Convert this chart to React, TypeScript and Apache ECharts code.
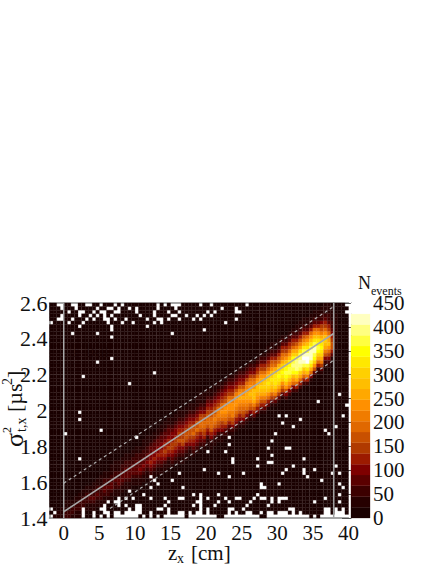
import React, { useEffect, useRef } from "react";
import * as echarts from "echarts";

const palette = ["#1a0000","#260000","#3c0000","#5a0000","#7e0000","#9c1a00","#b03a00","#c85000","#e06800","#f07c00","#ff9000","#ffa800","#ffbe00","#ffd000","#ffe800","#ffff00","#ffff40","#ffff80","#ffffc0","#ffffff"];
const levelStep = 22.5;
const xTicks = [0, 5, 10, 15, 20, 25, 30, 35, 40];
const binsX = 84;
const binsY = 60;
const binW = 0.5;
const binH = 0.02;

// column index -> [first row from the top, band levels (base 36) downward]
const bandColumns: Record<number, [number, string]> = {
  1: [52, "00000001"], 2: [52, "00000011"], 3: [51, "000000111"], 4: [50, "0000011122"], 5: [50, "0000011122"],
  6: [49, "00000011221"], 7: [48, "000000112211"], 8: [48, "000001122211"], 9: [47, "0000011222110"],
  10: [46, "00000112221100"], 11: [46, "00000112321100"], 12: [45, "000001122321100"], 13: [44, "000001122321100"],
  14: [44, "000011122221100"], 15: [43, "000011223321100"], 16: [43, "000011223221100"], 17: [42, "000111223321100"],
  18: [41, "000111223221100"], 19: [41, "000111223321100"], 20: [40, "000112233321100"], 21: [39, "000112233321100"],
  22: [39, "000112233321100"], 23: [38, "000112233321100"], 24: [37, "000112233332110"], 25: [37, "000112233432110"],
  26: [36, "001112233432110"], 27: [35, "001112233432110"], 28: [34, "00011233445432110"], 29: [33, "00011233445432110"],
  30: [32, "00011233445432110"], 31: [32, "00112334455432110"], 32: [31, "00112334556542110"], 33: [30, "00112334556542110"],
  34: [30, "00112344566543210"], 35: [29, "00112344566543210"], 36: [28, "00112345667543211"], 37: [28, "00112345667643211"],
  38: [27, "00112345677643211"], 39: [26, "00112345677654211"], 40: [26, "00112345778654321"], 41: [25, "01112345778654321"],
  42: [24, "01112346788754321"], 43: [24, "01112346788765321"], 44: [22, "0011234567887542110"], 45: [22, "0011234567888754211"],
  46: [21, "0011234567898754211"], 47: [20, "0011234568998764211"], 48: [20, "0012345689a98654211"], 49: [19, "0012345679aa9875321"],
  50: [18, "0012345689aa9875321"], 51: [18, "0012345689aa9976421"], 52: [17, "001234579aaa9875421"], 53: [16, "001234579aba9875421"],
  54: [16, "001234579aba9876421"], 55: [15, "001234689abba986421"], 56: [14, "001234689abcba87421"], 57: [14, "001234689acccb97531"],
  58: [13, "00123568abccba97531"], 59: [12, "00123568abcdcb97531"], 60: [12, "00123568acddcb97531"], 61: [11, "01123568acdedca8531"],
  62: [10, "01123578acdedcb8631"], 63: [10, "01123578bdeeedb9631"], 64: [9, "01123578bdefedb9631"], 65: [8, "01235689bdefeda8631"],
  66: [8, "0123568acefgfeca742"], 67: [7, "0123568acefggeca842"], 68: [6, "0123568bdfghgfca842"], 69: [6, "1123579bdghhhfdb852"],
  70: [5, "1123579beghihgdb852"], 71: [4, "1123579begijigdb852"], 72: [4, "112358acegijjgec952"], 73: [3, "112358acegiiigeb841"],
  74: [2, "112358acegiigfda731"], 75: [2, "112358acefgfdb8521"], 76: [1, "11224679bdefedb9631"], 77: [0, "11123568acdcb97421"],
  78: [0, "111223568abca86421"], 79: [0, "0111122345677531000"], 80: [0, "000111111111100"],
};

// row index from the top -> columns with no events (drawn white)
const emptyCells: number[][] = [
  [2,3,6,7,10,11,14,18,20,30,32,34,35,36,42,45,55,83],
  [3,7,13,16,17,19,22,24,30,35,48,52],
  [5,8,9,12,14,15,18,19,24,29,33,36,44,46,52,53,83],
  [3,8,11,13,15,17,25,29,34,35,38,41,43,45],
  [2,3,6,10,12,15,16,18,21,27,30,31,33,36,40,42,52],
  [0,5,9,16,20,23,29,31,49],
  [8,17,27],
  [17,43],
  [6,13,34],
  [17],[],[],[],[],[],
  [17],
  [13],[],[],
  [29],
  [9],[],
  [22],
  [],[],[81],[],[75],[83],[],
  [8],[64,66,82],
  [8,70],
  [65],
  [68,80],
  [14,77],
  [4,63,78],
  [24,50],
  [62],
  [50],
  [61,66,67],
  [44,49],
  [62],
  [8,51,58,71],
  [51,61,62],
  [58,68,80],
  [43,66,71,74],
  [36,47,54,65,71,79,81],
  [28,50,72],
  [29,34,76],
  [30,59,64,81],
  [28,37,59,60,82],
  [22],
  [26,40,42,47,58,81],
  [19,21,23,28,32,36,37,42,44,49,52,53,57,59,60,62,64,65,66,77],
  [16,18,19,33,41,42,47,50,56,62,64,74,81],
  [15,19,21,24,25,32,40,42,46,55,61],
  [0,9,14,15,22,24,25,30,31,33,42,44,50,51,54,67,68,77,78,80,82],
  [1,9,12,15,16,18,19,21,22,23,24,25,28,33,36,37,39,41,42,44,50,52,55,56,59,61,62,64,65,66,68,70,77,78,80,81,82],
  [0,9,12,14,16,18,19,20,21,22,23,24,26,28,30,32,33,34,35,36,37,39,40,41,42,43,44,45,46,49,50,51,52,53,54,55,56,57,58,61,62,63,64,65,66,67,68,69,70,71,72,74,76,77,78,79,80,81,82,83],
];

const leftEdge = [[0, 1.4], [0, 2.6]];
const rightEdge = [[37.92, 1.4], [37.92, 2.6]];
const fitLine = [[0, 1.435], [37.92, 2.43]];
const upperBound = [[0, 1.594], [37.92, 2.58]];
const lowerBound = [[6.5, 1.453], [37.92, 2.28]];

// faint seams of the rendered image
const seamsX = [1.5, 2.5, 7, 8, 9, 12, 13, 14.5, 17, 18, 19, 21, 24, 27.5, 28.5, 29.5, 31.5, 33.5, 34.5, 36.5, 37];
const seamsY = [1.5, 1.56, 1.62, 1.7, 1.78, 1.86, 1.92, 2.0, 2.06, 2.14, 2.2, 2.28, 2.34, 2.42, 2.5, 2.56];

function buildCells() {
  const grid: number[][] = [];
  for (let r = 0; r < binsY; r++) grid.push(new Array(binsX).fill(0));
  Object.keys(bandColumns).forEach((k) => {
    const c = Number(k);
    const [top, levels] = bandColumns[c];
    for (let i = 0; i < levels.length; i++) {
      if (top + i < binsY) grid[top + i][c] = parseInt(levels[i], 36);
    }
  });
  emptyCells.forEach((cols, r) => cols.forEach((c) => { if (r < binsY) grid[r][c] = -1; }));
  const out: number[][] = [];
  grid.forEach((row, r) => row.forEach((lvl, c) => {
    if (lvl >= 0) out.push([-2 + c * binW, 2.6 - (r + 1) * binH, lvl]);
  }));
  return out;
}

const SERIF = "Liberation Serif";

export default function App() {
  const ref = useRef<HTMLDivElement>(null);
  useEffect(() => {
    const chart = echarts.init(ref.current!, null, { renderer: "svg" });
    const guide = (data: number[][], color: string, width: number, type: any = "solid", z = 5) => ({
      type: "line", data, symbol: "none", silent: true, z, xAxisIndex: 0, yAxisIndex: 0,
      lineStyle: { color, width, type }, itemStyle: { color },
    });
    const seamColor = "rgba(255,235,235,0.07)";
    chart.setOption({
      animation: false,
      backgroundColor: "#ffffff",
      textStyle: { fontFamily: SERIF },
      grid: [
        { left: 49.5, top: 303, width: 299, height: 215 },
        { left: 351, top: 303, width: 19, height: 215 },
      ],
      xAxis: [
        {
          type: "value", gridIndex: 0, min: -2, max: 40,
          axisLine: { onZero: false, lineStyle: { color: "#888888", width: 1.5 } },
          axisTick: { show: false },
          splitLine: { show: false },
          axisLabel: { customValues: xTicks, fontFamily: SERIF, fontSize: 21, color: "#111", margin: 4 },
        },
        { type: "value", gridIndex: 1, min: 0, max: 1, show: false },
        {
          type: "value", gridIndex: 0, position: "top", min: -2, max: 40,
          axisLine: { onZero: false, lineStyle: { color: "#888888", width: 1.5 } },
          axisTick: { show: false }, axisLabel: { show: false }, splitLine: { show: false },
        },
      ],
      yAxis: [
        {
          type: "value", gridIndex: 0, min: 1.4, max: 2.6, interval: 0.2,
          axisLine: { onZero: false, lineStyle: { color: "#888888", width: 1.5 } },
          axisTick: { show: false },
          splitLine: { show: false },
          axisLabel: { fontFamily: SERIF, fontSize: 22, color: "#111", margin: 2, formatter: (v: number) => String(Math.round(v * 10) / 10) },
        },
        {
          type: "value", gridIndex: 1, position: "right", min: 0, max: 450, interval: 50,
          axisLine: { show: true, lineStyle: { color: "#555555", width: 1 } },
          axisTick: { show: true, inside: true, length: 9, lineStyle: { color: "#555555", width: 1 } },
          splitLine: { show: false },
          axisLabel: { fontFamily: SERIF, fontSize: 21, color: "#111", margin: 3 },
        },
      ],
      series: [
        {
          type: "custom", xAxisIndex: 0, yAxisIndex: 0, silent: true, z: 1,
          data: buildCells(), encode: { x: 0, y: 1 },
          renderItem: (_: any, api: any) => {
            const p = api.coord([api.value(0), api.value(1) + binH]);
            const s = api.size([binW, binH]);
            const fill = palette[api.value(2)];
            return { type: "rect", shape: { x: p[0], y: p[1], width: s[0], height: s[1] }, style: { fill, stroke: fill, lineWidth: 0.3 } };
          },
        },
        {
          type: "custom", xAxisIndex: 1, yAxisIndex: 1, silent: true, z: 1,
          data: palette.map((_, i) => [0, i * levelStep, i]), encode: { x: 0, y: 1 },
          renderItem: (_: any, api: any) => {
            const p = api.coord([0, api.value(1) + levelStep]);
            const s = api.size([1, levelStep]);
            const fill = palette[api.value(2)];
            return { type: "rect", shape: { x: p[0], y: p[1], width: s[0], height: s[1] }, style: { fill, stroke: fill, lineWidth: 0.3 } };
          },
        },
        ...seamsX.map((x) => guide([[x, 1.4], [x, 2.6]], seamColor, 1, "solid", 2)),
        ...seamsY.map((y) => guide([[-2, y], [37.92, y]], seamColor, 1, "solid", 2)),
        guide(leftEdge, "#a8a8a8", 1.5),
        guide(rightEdge, "#a0a0a0", 1.5),
        guide(fitLine, "#a8a8a8", 1.6),
        guide(upperBound, "#b0b0b0", 1.2, [3, 3]),
        guide(lowerBound, "#b0b0b0", 1.2, [3, 3]),
      ],
      graphic: [
        { type: "text", x: 70, y: 350, style: { text: "1 bar", font: `20px '${SERIF}'`, fill: "#8a8a8a", verticalAlign: "middle" } },
        { type: "text", x: 168, y: 553, style: { text: "z", font: `21px '${SERIF}'`, fill: "#111", verticalAlign: "middle" } },
        { type: "text", x: 177, y: 558, style: { text: "x", font: `14px '${SERIF}'`, fill: "#111", verticalAlign: "middle" } },
        { type: "text", x: 191, y: 553, style: { text: "[cm]", font: `21px '${SERIF}'`, fill: "#111", verticalAlign: "middle" } },
        { type: "text", x: 358, y: 283, style: { text: "N", font: `18px '${SERIF}'`, fill: "#111", verticalAlign: "middle" } },
        { type: "text", x: 371, y: 291, style: { text: "events", font: `12px '${SERIF}'`, fill: "#111", verticalAlign: "middle" } },
        {
          type: "group", x: 14, y: 447, rotation: Math.PI / 2,
          children: [
            { type: "text", x: 0, y: 0, style: { text: "σ", font: `26px '${SERIF}'`, fill: "#111", verticalAlign: "middle" } },
            { type: "text", x: 14, y: -7, style: { text: "2", font: `12px '${SERIF}'`, fill: "#111", verticalAlign: "middle" } },
            { type: "text", x: 15, y: 7, style: { text: "t,x", font: `14px '${SERIF}'`, fill: "#111", verticalAlign: "middle" } },
            { type: "text", x: 35, y: 0, style: { text: "[µs", font: `22px '${SERIF}'`, fill: "#111", verticalAlign: "middle" } },
            { type: "text", x: 62, y: -7, style: { text: "2", font: `14px '${SERIF}'`, fill: "#111", verticalAlign: "middle" } },
            { type: "text", x: 69, y: 0, style: { text: "]", font: `22px '${SERIF}'`, fill: "#111", verticalAlign: "middle" } },
          ],
        },
      ],
    });
    return () => chart.dispose();
  }, []);
  return <div ref={ref} style={{ position: "absolute", left: 0, top: 0, width: 436, height: 564 }} />;
}
